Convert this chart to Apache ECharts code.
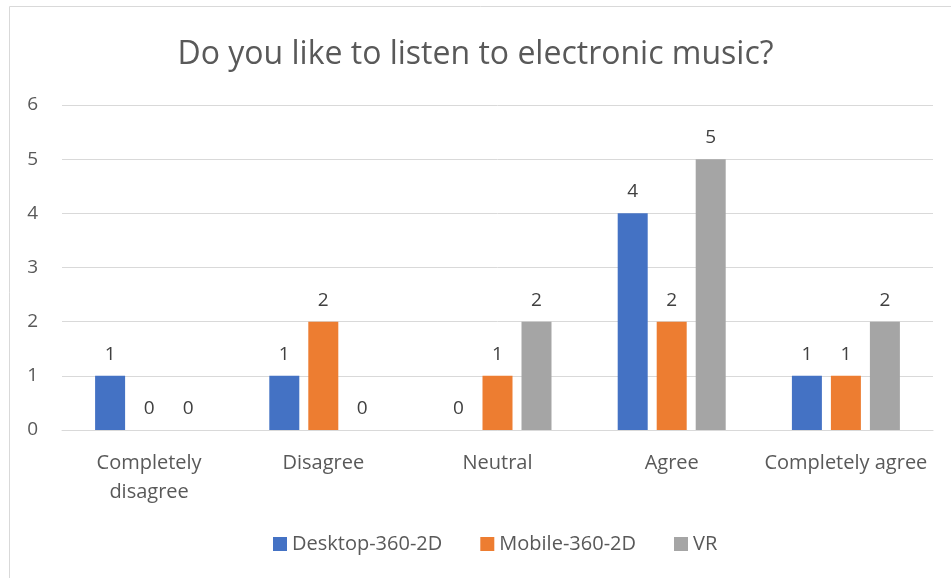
<!DOCTYPE html>
<html>
<head>
<meta charset="utf-8">
<script src="https://cdn.jsdelivr.net/npm/echarts@6/dist/echarts.min.js"></script>
<style>
  html, body { margin: 0; padding: 0; background: #fff; }
  #chart { width: 951px; height: 578px; }
</style>
</head>
<body>
<div id="chart"></div>
<script>
// Survey answers per viewing condition
const categories = ['Completely disagree', 'Disagree', 'Neutral', 'Agree', 'Completely agree'];
const desktop = [1, 1, 0, 4, 1];
const mobile = [0, 2, 1, 2, 1];
const vr = [0, 0, 2, 5, 2];
const seriesNames = ['Desktop-360-2D', 'Mobile-360-2D', 'VR'];
const colors = ['#4472C4', '#ED7D31', '#A5A5A5'];

const FONT = '"Open Sans", "Noto Sans", sans-serif';
const TEXT = '#595959';

const chart = echarts.init(document.getElementById('chart'));

function barSeries(name, data, color) {
  return {
    name: name,
    type: 'bar',
    data: data,
    barWidth: 30,
    barGap: '30%',
    itemStyle: { color: color },
    label: {
      show: true,
      position: 'top',
      distance: 12,
      color: '#404040',
      fontFamily: FONT,
      fontSize: 19
    }
  };
}

chart.setOption({
  animation: false,
  textStyle: { fontFamily: FONT },
  title: {
    text: 'Do you like to listen to electronic music?',
    left: 'center',
    top: 34,
    textStyle: { fontFamily: FONT, fontWeight: 'normal', fontSize: 32, color: TEXT }
  },
  color: colors,
  legend: {
    bottom: 19,
    left: 268,
    itemWidth: 14,
    itemHeight: 14,
    itemGap: 38,
    icon: 'rect',
    textStyle: { fontFamily: FONT, fontSize: 20, color: TEXT },
    data: seriesNames
  },
  grid: { left: 62, right: 18, top: 105, bottom: 148, containLabel: false },
  xAxis: {
    type: 'category',
    data: categories,
    axisLine: { lineStyle: { color: '#D9D9D9', width: 1 } },
    axisTick: { show: false },
    axisLabel: {
      color: TEXT,
      fontFamily: FONT,
      fontSize: 20,
      margin: 19,
      lineHeight: 29,
      interval: 0,
      formatter: function (v) {
        return v.length > 17 ? v.replace(' ', '\n') : v;
      }
    }
  },
  yAxis: {
    type: 'value',
    min: 0,
    max: 6,
    interval: 1,
    axisLine: { show: false },
    axisTick: { show: false },
    axisLabel: { color: TEXT, fontFamily: FONT, fontSize: 19, margin: 24 },
    splitLine: { lineStyle: { color: '#D9D9D9', width: 1 } }
  },
  graphic: [{
    type: 'rect',
    shape: { x: 9.5, y: 6.5, width: 1000, height: 1000 },
    style: { fill: 'none', stroke: '#D9D9D9', lineWidth: 1 },
    silent: true,
    z: -1
  }],
  series: [
    barSeries(seriesNames[0], desktop, colors[0]),
    barSeries(seriesNames[1], mobile, colors[1]),
    barSeries(seriesNames[2], vr, colors[2])
  ]
});
</script>
</body>
</html>
